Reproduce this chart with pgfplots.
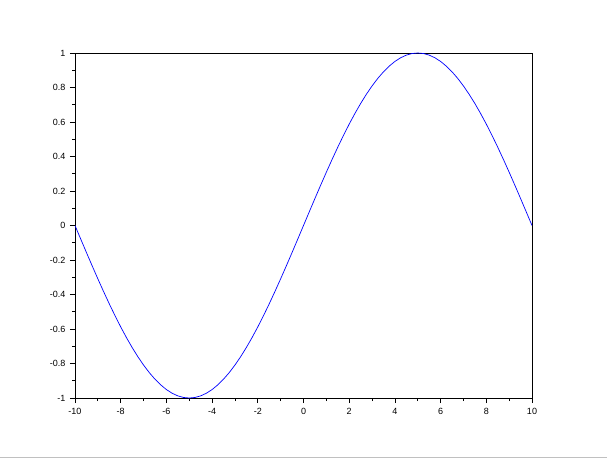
\documentclass[border=0pt]{standalone}
\usepackage{fontspec}
\setmainfont{Liberation Sans}
\usepackage{pgfplots}
\pgfplotsset{compat=1.18}
\begin{document}
\begin{tikzpicture}[x=1pt,y=1pt]
\path[use as bounding box] (0,0) rectangle (607,458);
\fill[white] (0,0) rectangle (607,458);
\draw[color={rgb,255:red,192;green,192;blue,192}, line width=1.2pt] (0,0.8) -- (607,0.8);
\begin{axis}[
  at={(75pt,60pt)}, anchor=south west,
  scale only axis, width=457pt, height=345pt,
  xmin=-10, xmax=10, ymin=-1, ymax=1,
  axis line style={line width=0.9pt, black},
  xtick={-10,-8,-6,-4,-2,0,2,4,6,8,10},
  xticklabels={-10,-8,-6,-4,-2,0,2,4,6,8,10},
  ytick={-1,-0.8,-0.6,-0.4,-0.2,0,0.2,0.4,0.6,0.8,1},
  yticklabels={-1,-0.8,-0.6,-0.4,-0.2,0,0.2,0.4,0.6,0.8,1},
  minor tick num=1,
  tick align=outside,
  xtick pos=left, ytick pos=left,
  major tick length=5pt, minor tick length=3pt,
  tick style={black, line width=0.8pt},
  ticklabel style={font=\fontsize{9}{10}\selectfont},
  xticklabel style={yshift=-2pt},
  yticklabel style={xshift=-1pt},
]
\addplot[color={rgb,255:red,0;green,0;blue,255}, line width=0.7pt] coordinates {
(-10,0) (-9.75,-0.07846) (-9.5,-0.15643) (-9.25,-0.23345) (-9,-0.30902) (-8.75,-0.38268)
(-8.5,-0.45399) (-8.25,-0.52250) (-8,-0.58779) (-7.75,-0.64945) (-7.5,-0.70711)
(-7.25,-0.76041) (-7,-0.80902) (-6.75,-0.85264) (-6.5,-0.89101) (-6.25,-0.92388)
(-6,-0.95106) (-5.75,-0.97237) (-5.5,-0.98769) (-5.25,-0.99692) (-5,-1)
(-4.75,-0.99692) (-4.5,-0.98769) (-4.25,-0.97237) (-4,-0.95106) (-3.75,-0.92388)
(-3.5,-0.89101) (-3.25,-0.85264) (-3,-0.80902) (-2.75,-0.76041) (-2.5,-0.70711)
(-2.25,-0.64945) (-2,-0.58779) (-1.75,-0.52250) (-1.5,-0.45399) (-1.25,-0.38268)
(-1,-0.30902) (-0.75,-0.23345) (-0.5,-0.15643) (-0.25,-0.07846) (0,0)
(0.25,0.07846) (0.5,0.15643) (0.75,0.23345) (1,0.30902) (1.25,0.38268)
(1.5,0.45399) (1.75,0.52250) (2,0.58779) (2.25,0.64945) (2.5,0.70711)
(2.75,0.76041) (3,0.80902) (3.25,0.85264) (3.5,0.89101) (3.75,0.92388)
(4,0.95106) (4.25,0.97237) (4.5,0.98769) (4.75,0.99692) (5,1)
(5.25,0.99692) (5.5,0.98769) (5.75,0.97237) (6,0.95106) (6.25,0.92388)
(6.5,0.89101) (6.75,0.85264) (7,0.80902) (7.25,0.76041) (7.5,0.70711)
(7.75,0.64945) (8,0.58779) (8.25,0.52250) (8.5,0.45399) (8.75,0.38268)
(9,0.30902) (9.25,0.23345) (9.5,0.15643) (9.75,0.07846) (10,0)
};
\end{axis}
\end{tikzpicture}
\end{document}
